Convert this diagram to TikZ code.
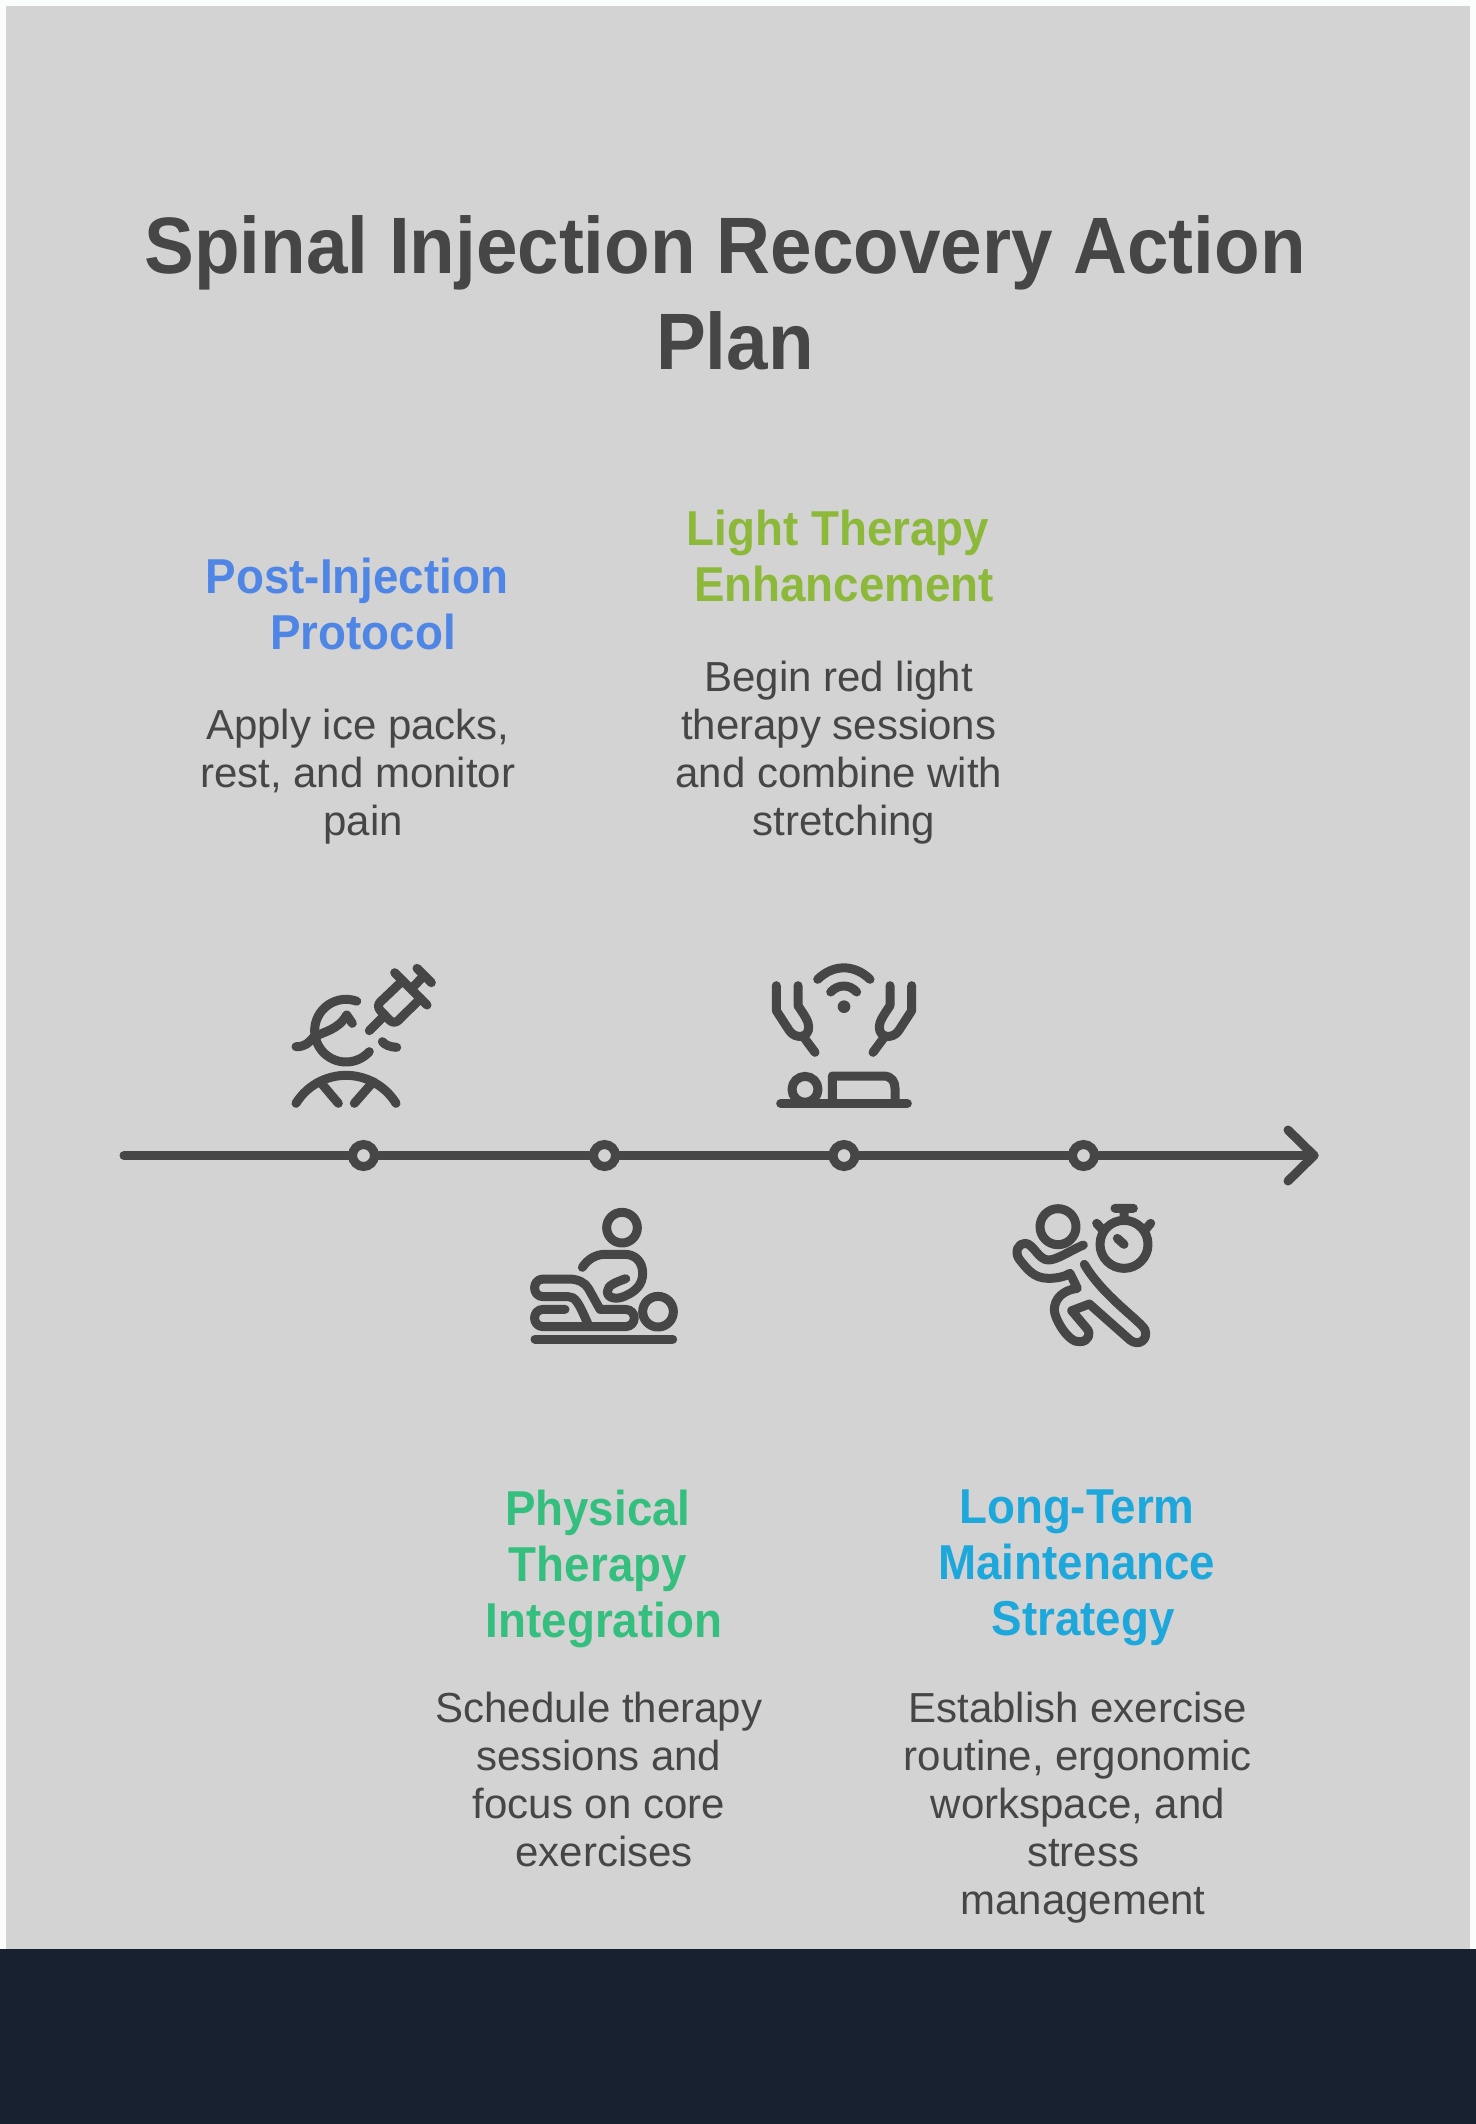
\documentclass[tikz,border=0pt]{standalone}
\usepackage{fontspec}
\setmainfont{Liberation Sans}
\newfontfamily\narrowbold[FakeStretch=.933]{Liberation Sans}
\definecolor{pagewhite}{HTML}{FBFDFC}
\definecolor{panel}{HTML}{D3D3D3}
\definecolor{navy}{HTML}{182130}
\definecolor{ink}{HTML}{464646}
\definecolor{cblue}{HTML}{4F86E6}
\definecolor{clime}{HTML}{8DB93A}
\definecolor{cgreen}{HTML}{35BF7F}
\definecolor{ccyan}{HTML}{1EA7DB}
\newcommand\trs{\kern.25em\relax}
\tikzset{
  blocktext/.style={anchor=north,inner sep=0pt,align=center,text=ink},
  titletext/.style={blocktext,font=\fontsize{40}{48}\narrowbold\bfseries\selectfont,execute at begin node={\rule{0pt}{36pt}}},
  headtext/.style={blocktext,font=\fontsize{24.5}{28}\narrowbold\bfseries\selectfont,execute at begin node={\rule{0pt}{20pt}}},
  bodytext/.style={blocktext,font=\fontsize{21}{24}\selectfont,execute at begin node={\rule{0pt}{20pt}}},
  icon/.style={draw=ink,line width=4.5pt,line cap=round,line join=round},
  dot/.style={circle,draw=ink,fill=panel,line width=4.5pt,minimum size=11pt,inner sep=0pt},
  zoomed/.style={shift={#1},x=.16667pt,y=-.16667pt}
}
\begin{document}
\begin{tikzpicture}[x=.5pt,y=-.5pt]
\useasboundingbox (0,0) rectangle (1476,2124);
\fill[pagewhite] (0,0) rectangle (1476,2124);
\fill[panel] (6,6) rectangle (1470,1949);
\fill[navy] (0,1949) rectangle (1476,2124);

\node[titletext] (title) at (735,215) {Spinal Injection Recovery Action\trs\\Plan};

\node[headtext,text=cblue] (h1) at (363,558) {Post-Injection\trs\\Protocol};
\node[bodytext] (b1) at (363,708.5) {Apply ice packs,\trs\\rest, and monitor\trs\\pain};
\node[headtext,text=clime] (h3) at (844,510) {Light Therapy\trs\\Enhancement};
\node[bodytext] (b3) at (844,660.5) {Begin red light\trs\\therapy sessions\trs\\and combine with\trs\\stretching};
\node[headtext,text=cgreen] (h2) at (604,1489.5) {Physical\trs\\Therapy\trs\\Integration};
\node[bodytext] (b2) at (604,1691.5) {Schedule therapy\trs\\sessions and\trs\\focus on core\trs\\exercises};
\node[headtext,text=ccyan] (h4) at (1083,1489.5) {Long-Term\trs\\Maintenance\trs\\Strategy};
\node[bodytext] (b4) at (1083,1691.5) {Establish exercise\trs\\routine, ergonomic\trs\\workspace, and\trs\\stress\\management};

% timeline
\coordinate (start) at (124,1155.5);
\coordinate (tip) at (1314,1155.5);
\coordinate (barbA) at (1288,1130);
\coordinate (barbB) at (1288,1181);
\node[dot] (d1) at (363.5,1155.5) {};
\node[dot] (d2) at (604.5,1155.5) {};
\node[dot] (d3) at (844,1155.5) {};
\node[dot] (d4) at (1083.5,1155.5) {};
\draw[icon] (start) -- (d1) -- (d2) -- (d3) -- (d4) -- (tip);
\draw[icon] (barbA) -- (tip) -- (barbB);

% syringe and patient
\begin{scope}[zoomed={(270,940)}]
\draw[icon] (441,85) -- (484,128) (462,107) -- (430,140) (374,98) -- (471,195);
\draw[icon,rounded corners=3pt] (398,122) -- (318,198) -- (372,254) -- (452,175);
\draw[icon] (335,235) -- (298,272);
\draw[icon] plot[domain=70:318,samples=50,smooth] ({228+94*cos(\x)},{272-94*sin(\x)});
\draw[icon] (78,320) .. controls (105,320) and (115,310) .. (130,292) .. controls (160,275) and (205,270) .. (230,225) -- (247,250);
\draw[icon] (337,305) .. controls (345,315) and (360,321) .. (380,322);
\draw[icon] plot[domain=31.5:148.5,samples=30,smooth] ({228+176*cos(\x)},{582-176*sin(\x)});
\draw[icon] (150,425) -- (205,490) (310,425) -- (253,490);
\end{scope}

% light therapy
\begin{scope}[zoomed={(750,940)}]
\draw[icon] (203,118) .. controls (250,72) and (313,72) .. (360,118);
\draw[icon] (242,156) .. controls (265,132) and (298,132) .. (320,156);
\fill[ink] (282,200) circle[radius=19];
\draw[icon] (79,137) -- (79,212) -- (118,272) .. controls (135,298) and (178,295) .. (176,260) .. controls (176,245) and (165,228) .. (144,197) -- (144,137);
\draw[icon] (160,290) -- (195,337);
\draw[icon] (485,137) -- (485,212) -- (446,272) .. controls (429,298) and (386,295) .. (388,260) .. controls (388,245) and (399,228) .. (420,197) -- (420,137);
\draw[icon] (404,290) -- (369,337);
\draw[icon] (92,490) -- (472,490);
\draw[icon] (165,448) circle[radius=39];
\draw[icon] (247,490) -- (247,408) -- (400,408) .. controls (425,408) and (435,425) .. (435,445) -- (435,490);
\end{scope}

% physical therapy
\begin{scope}[zoomed={(510,1190)}]
\draw[icon] (336,113) circle[radius=46];
\draw[icon] (444,365) circle[radius=46];
\draw[icon] (75,447) -- (488,447);
\draw[icon] (217,232) .. controls (235,205) and (260,193) .. (285,193) -- (345,193) .. controls (375,193) and (398,215) .. (398,250) .. controls (398,285) and (375,305) .. (345,318) .. controls (320,330) and (292,325) .. (292,305) .. controls (292,285) and (320,276) .. (347,266);
\draw[icon] (165,358) -- (100,358) .. controls (65,358) and (65,410) .. (100,410) -- (345,410) .. controls (382,410) and (382,358) .. (345,358) -- (270,358) -- (235,295) .. controls (225,278) and (205,267) .. (175,267) -- (100,267) .. controls (65,267) and (65,320) .. (100,320) -- (175,320) .. controls (195,320) and (205,335) .. (235,405);
\end{scope}

% running person with stopwatch
\begin{scope}[zoomed={(990,1180)}]
\draw[icon] (204,140) circle[radius=54];
\draw[icon] (402,193) circle[radius=72];
\draw[icon] (375,85) -- (430,85) (402,85) -- (402,120) (320,130) -- (338,150) (482,130) -- (465,150) (382,175) -- (402,193);
\draw[icon] (280,195) .. controls (235,215) and (200,240) .. (175,240) .. controls (145,240) and (130,190) .. (105,190) .. controls (85,190) and (72,215) .. (88,238) .. controls (110,265) and (130,295) .. (175,295) .. controls (200,295) and (225,290) .. (240,280) -- (262,325) .. controls (220,330) and (193,355) .. (193,390) .. controls (193,415) and (235,490) .. (270,485) .. controls (295,485) and (305,460) .. (290,445) -- (245,392) -- (298,372) -- (420,480) .. controls (445,500) and (475,480) .. (465,450) .. controls (455,425) and (340,350) .. (283,253);
\end{scope}
\end{tikzpicture}
\end{document}
